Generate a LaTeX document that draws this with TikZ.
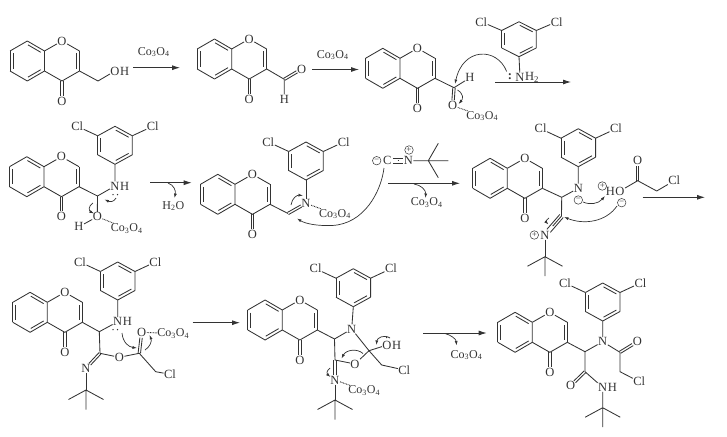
\documentclass[tikz,border=0pt]{standalone}
\usepackage{fontspec}
\setmainfont{Liberation Serif}
\usetikzlibrary{positioning, arrows.meta, calc}
\definecolor{ink}{gray}{.2}
\tikzstyle{bond} = [draw=ink, line width=.85pt]
\tikzstyle{metal} = [draw=ink, line width=.9pt, dash pattern=on .8pt off .8pt]
\tikzstyle{atom} = [inner sep=.4pt, text=ink, font=\fontsize{12.5}{12.5}\selectfont]
\tikzstyle{reagent} = [inner sep=0pt, text=ink, font=\fontsize{12}{12}\selectfont]
\tikzstyle{charge} = [draw=ink, circle, line width=.5pt, inner sep=0pt, minimum size=8.5pt, text=ink, font=\fontsize{9}{9}\selectfont]
\tikzstyle{rxnarrow} = [draw=ink, line width=.85pt, -{Latex[length=8pt,width=5pt]}]
\tikzstyle{curly} = [draw=ink, line width=.7pt, -{Latex[length=4.5pt,width=3pt]}]
\tikzstyle{lonepair} = [fill=ink, circle, inner sep=0pt, minimum size=1.5pt]
\newcommand{\ringdbl}[2]{%
  \draw[bond] (#1) -- (#2);
  \draw[bond, shorten >=2.5pt, shorten <=2.5pt] ($(#1)!3pt!90:(#2)$) -- ($(#2)!3pt!-90:(#1)$);}
% optional argument: how far the start stays clear of a label
\newcommand{\dblbond}[3][0pt]{%
  \draw[bond, shorten <=#1, shorten >=5.5pt] ($(#2)!1.2pt!90:(#3)$) -- ($(#3)!1.2pt!-90:(#2)$);
  \draw[bond, shorten <=#1, shorten >=5.5pt] ($(#2)!1.2pt!-90:(#3)$) -- ($(#3)!1.2pt!90:(#2)$);}
\newcommand{\tplbond}[3][0pt]{%
  \draw[bond, shorten <=#1, shorten >=5.5pt] ($(#2)!2.3pt!90:(#3)$) -- ($(#3)!2.3pt!-90:(#2)$);
  \draw[bond, shorten <=#1, shorten >=5.5pt] (#2) -- (#3);
  \draw[bond, shorten <=#1, shorten >=5.5pt] ($(#2)!2.3pt!-90:(#3)$) -- ($(#3)!2.3pt!90:(#2)$);}
\newcommand{\cooxide}{Co\textsubscript{3}O\textsubscript{4}}
\tikzset{
  chromone/.pic={
    \coordinate (-c3) at (0,0);
    \coordinate (-c2) at (0,-20);
    \coordinate (-c8a) at (-35,-20);
    \coordinate (-c4a) at (-35,0);
    \coordinate (-c4) at (-17.5,10);
    \coordinate (-c8) at (-52.2,-30);
    \coordinate (-c7) at (-69.5,-20);
    \coordinate (-c6) at (-69.5,0);
    \coordinate (-c5) at (-52.2,10);
    \node[atom] (-o1) at (-17.5,-30) {O};
    \node[atom] (-o4) at (-17.5,30) {O};
    \ringdbl{-c3}{-c2}
    \ringdbl{-c8a}{-c8}
    \ringdbl{-c7}{-c6}
    \ringdbl{-c5}{-c4a}
    \draw[bond] (-c8) -- (-c7) (-c6) -- (-c5) (-c4a) -- (-c8a);
    \draw[bond] (-c8a) -- (-o1) -- (-c2);
    \draw[bond] (-c3) -- (-c4) -- (-c4a);
    \dblbond{-c4}{-o4}
  },
  aryl/.pic={
    \coordinate (-c1) at (0,0);
    \coordinate (-c2) at (17.3,-9.5);
    \coordinate (-c3) at (17.3,-28.5);
    \coordinate (-c4) at (0,-38);
    \coordinate (-c5) at (-17.3,-28.5);
    \coordinate (-c6) at (-17.3,-9.5);
    \node[atom] (-cll) at (-37.7,-38) {Cl};
    \node[atom] (-clr) at (37.7,-38) {Cl};
    \ringdbl{-c1}{-c2}
    \ringdbl{-c3}{-c4}
    \ringdbl{-c5}{-c6}
    \draw[bond] (-c2) -- (-c3) (-c4) -- (-c5) (-c6) -- (-c1);
    \draw[bond] (-c3) -- (-clr) (-c5) -- (-cll);
  },
  tbutyl/.pic={
    \coordinate (-c) at (0,0);
    \draw[bond] (-c) -- (-17.5,9.5) (-c) -- (17.5,9.5) (-c) -- (0,19.5);
  }
}
\begin{document}
\begin{tikzpicture}[x=1pt, y=-1pt]
  \useasboundingbox (0,0) rectangle (727,436);

  % first row
  \pic (ma) at (79.5,71) {chromone};
  \coordinate (mach) at (98,81);
  \node[atom] (maoh) at (115,71) {O};
  \node[atom, right=-.6pt of maoh] (mah) {H};
  \draw[bond] (ma-c3) -- (mach) -- (maoh);
  \coordinate (arra) at (133,67.7);
  \coordinate (arrb) at (180,67.7);
  \draw[rxnarrow] (arra) -- (arrb);
  \node[reagent] (rga) at (153.7,52) {\cooxide};

  \pic (mb) at (266.7,69) {chromone};
  \coordinate (mbc) at (284.3,79.3);
  \node[atom] (mbo) at (301.7,69) {O};
  \node[atom] (mbh) at (284.3,99) {H};
  \draw[bond] (mb-c3) -- (mbc) -- (mbh);
  \dblbond{mbc}{mbo}
  \coordinate (arrc) at (312,69.5);
  \coordinate (arrd) at (359,69.5);
  \draw[rxnarrow] (arrc) -- (arrd);
  \node[reagent] (rgb) at (332.7,55) {\cooxide};

  \pic (mc) at (435,78.3) {chromone};
  \coordinate (mcc) at (454,87.7);
  \node[atom] (mch) at (470,77.7) {H};
  \node[atom] (mco) at (452.7,105.7) {O};
  \node[reagent] (mcco) at (482.3,116) {\cooxide};
  \draw[bond] (mc-c3) -- (mcc) -- (mch);
  \dblbond{mcc}{mco}
  \draw[metal] (mco) -- (mcco);
  \pic[yscale=.92] (ara) at (519,56.7) {aryl};
  \node[atom] (man) at (520,77.3) {N};
  \node[atom, right=-.6pt of man] (manh) {H\textsubscript{2}};
  \node[atom] (mancol) at (510,76.5) {\textbf{:}};
  \draw[bond] (ara-c1) -- (man);
  \coordinate (arre) at (495,82);
  \coordinate (arrf) at (571,82);
  \draw[rxnarrow] (arre) -- (arrf);
  \draw[curly] (506.7,71.5) .. controls (497,47) and (463,47) .. (455,84);
  \draw[curly] (457.5,90) .. controls (464,94) and (463,99) .. (458.5,104);

  % second row
  \pic (md) at (79,186.7) {chromone};
  \pic (ard) at (115,164.3) {aryl};
  \coordinate (mdc) at (97.5,196);
  \node[atom] (mdn) at (115,186) {N};
  \node[atom, right=-.6pt of mdn] (mdnh) {H};
  \node[atom] (mdo) at (97.3,216.7) {O};
  \node[atom] (mdh) at (79,226.7) {H};
  \node[reagent] (mdco) at (126.7,228.5) {\cooxide};
  \draw[bond] (md-c3) -- (mdc) -- (mdn) -- (ard-c1);
  \draw[bond] (mdc) -- (mdo) -- (mdh);
  \draw[metal] (mdo) -- (mdco);
  \node[lonepair] (mdpa) at (113,194.5) {};
  \node[lonepair] (mdpb) at (117.5,194.5) {};
  \draw[curly] (116,198) .. controls (114,202) and (110,202) .. (104.5,199.5);
  \draw[curly] (93,203) .. controls (88,206) and (89,211) .. (94,213.5);
  \coordinate (arrg) at (150.3,182.7);
  \coordinate (arrh) at (191.7,182.7);
  \draw[rxnarrow] (arrg) -- (arrh);
  \draw[curly] (168,183) .. controls (174,185) and (176,191) .. (174.5,198);
  \node[reagent] (rgc) at (173.3,206) {H\textsubscript{2}O};

  \pic (me) at (270,204.3) {chromone};
  \pic (are) at (306,180) {aryl};
  \coordinate (mec) at (288,213.5);
  \node[atom] (men) at (306,203.3) {N};
  \node[reagent] (meco) at (335,214) {\cooxide};
  \draw[bond] (me-c3) -- (mec);
  \dblbond{mec}{men}
  \draw[bond] (men) -- (are-c1);
  \draw[metal] (men) -- (meco);
  \draw[curly] (291,205) .. controls (292,198) and (297,195) .. (303,195.5);

  % isocyanide
  \node[charge] (isom) at (376.7,160.7) {\textminus};
  \node[atom] (isoc) at (387.3,160.7) {C};
  \node[atom] (ison) at (408.3,160.7) {N};
  \node[charge] (isop) at (409,150) {+};
  \coordinate (isob) at (428.3,160.7);
  \coordinate (isoup) at (438.3,143.3);
  \coordinate (isort) at (448.3,160.7);
  \coordinate (isodn) at (438.3,177.7);
  \tplbond[5.5pt]{isoc}{ison}
  \draw[bond] (ison) -- (isob) -- (isort) (isoup) -- (isob) -- (isodn);
  \draw[curly] (384,168) .. controls (381,192) and (364,224) .. (332,225.5) .. controls (318,226) and (306,224) .. (297,218.5);
  \coordinate (arri) at (388.3,183.3);
  \coordinate (arrj) at (460,183.3);
  \draw[rxnarrow] (arri) -- (arrj);
  \draw[curly] (414,184) .. controls (421,185) and (426,190) .. (425.5,198);
  \node[reagent] (rgd) at (426.7,202.5) {\cooxide};

  \pic (mf) at (542.3,188.3) {chromone};
  \pic (arf) at (578.3,166.7) {aryl};
  \coordinate (mfc) at (561.7,197.3);
  \coordinate (mfi) at (561.5,216);
  \node[atom] (mfn) at (578.3,188.3) {N};
  \node[charge] (mfnm) at (578.3,200) {\textminus};
  \node[atom] (mfnn) at (545,235) {N};
  \node[charge] (mfnp) at (534.3,235) {+};
  \pic (mfb) at (545,256.7) {tbutyl};
  \draw[bond] (mf-c3) -- (mfc) -- (mfn) -- (arf-c1);
  \draw[bond] (mfc) -- (mfi);
  \tplbond{mfi}{mfnn}
  \draw[bond] (mfnn) -- (mfb-c);
  \draw[curly] (549,218) .. controls (546,220) and (546,222) .. (548.5,224.5);

  % chloroacetic acid
  \node[charge] (hap) at (602.3,186) {+};
  \node[atom] (hao) at (620,191) {O};
  \node[atom, left=-.6pt of hao] (hah) {H};
  \coordinate (hac) at (637.7,180.7);
  \coordinate (hach) at (656.7,191);
  \node[atom] (haoo) at (637.7,160.7) {O};
  \node[atom] (hacl) at (674.3,180.7) {Cl};
  \node[charge] (ham) at (621.7,202.7) {\textminus};
  \draw[bond] (hao) -- (hac) -- (hach) -- (hacl);
  \dblbond{hac}{haoo}
  \draw[curly] (583,202) .. controls (590,205) and (598,204) .. (605,196);
  \draw[curly] (617,206) .. controls (606,222) and (584,225) .. (564,217);
  \coordinate (arrk) at (642.7,197.3);
  \coordinate (arrl) at (705,197.3);
  \draw[rxnarrow] (arrk) -- (arrl);

  % third row
  \pic (mg) at (82.3,322.3) {chromone};
  \pic (arg) at (117.7,300) {aryl};
  \coordinate (mgc) at (99.3,331.7);
  \coordinate (mgi) at (100,353.3);
  \node[atom] (mgn) at (117.7,321.7) {N};
  \node[atom, right=-.6pt of mgn] (mgnh) {H};
  \node[atom] (mgnn) at (86,368.3) {N};
  \pic (mgb) at (86,390) {tbutyl};
  \node[atom] (mgo) at (119.3,357.3) {O};
  \coordinate (mgq) at (139.3,353.3);
  \node[atom] (mgoo) at (141.7,332.3) {O};
  \node[reagent] (mgco) at (173.3,333.5) {\cooxide};
  \coordinate (mgch) at (155.7,371.7);
  \node[atom] (mgcl) at (170,374.3) {Cl};
  \draw[bond] (mg-c3) -- (mgc) -- (mgn) -- (arg-c1);
  \draw[bond] (mgc) -- (mgi) -- (mgo) -- (mgq) -- (mgch) -- (mgcl);
  \dblbond{mgi}{mgnn}
  \draw[bond] (mgnn) -- (mgb-c);
  \dblbond{mgq}{mgoo}
  \draw[metal] (mgoo) -- (mgco);
  \node[lonepair] (mgpa) at (113,329.5) {};
  \node[lonepair] (mgpb) at (117.5,329.5) {};
  \draw[curly] (122,333) .. controls (123,343) and (129,347) .. (137,348);
  \draw[curly] (145,350) .. controls (150,347) and (152,341) .. (149.5,335);
  \coordinate (arrm) at (192.7,322.7);
  \coordinate (arrn) at (240,322.7);
  \draw[rxnarrow] (arrm) -- (arrn);

  \pic (mh) at (317.3,330) {chromone};
  \pic (arh) at (353.3,306.7) {aryl};
  \coordinate (mhc) at (334.5,339);
  \coordinate (mhi) at (335,360);
  \node[atom] (mhn) at (351.7,329) {N};
  \node[atom] (mhnn) at (335,380) {N};
  \pic (mhb) at (335,400) {tbutyl};
  \node[reagent] (mhco) at (364.3,390.5) {\cooxide};
  \node[atom] (mho) at (355,364) {O};
  \coordinate (mhq) at (369,350.7);
  \node[atom] (mhoh) at (387,345) {O};
  \node[atom, right=-.6pt of mhoh] (mhh) {H};
  \coordinate (mhch) at (381.7,365);
  \node[atom] (mhcl) at (404.3,370) {Cl};
  \draw[bond] (mh-c3) -- (mhc) -- (mhn) -- (arh-c1);
  \draw[bond] (mhc) -- (mhi) -- (mho) -- (mhq) -- (mhn);
  \draw[bond] (mhq) -- (mhoh) (mhq) -- (mhch) -- (mhcl);
  \dblbond{mhi}{mhnn}
  \draw[bond] (mhnn) -- (mhb-c);
  \draw[metal] (mhnn) -- (mhco);
  \node[lonepair] (mhpa) at (386.7,337.5) {};
  \draw[curly] (390,338) .. controls (384,334) and (377,338) .. (376.5,345);
  \draw[curly] (363,353.5) .. controls (357,348) and (346,350) .. (341.5,358.5);
  \draw[curly] (330,368) .. controls (326,371) and (327,374) .. (330.5,377);
  \coordinate (arro) at (423.3,333);
  \coordinate (arrp) at (486.7,333);
  \draw[rxnarrow] (arro) -- (arrp);
  \draw[curly] (445,333.5) .. controls (451,335) and (456,339) .. (456.5,345.5);
  \node[reagent] (rge) at (466.5,355) {\cooxide};

  \pic (mi) at (567.3,342.3) {chromone};
  \pic (ari) at (602.7,321) {aryl};
  \coordinate (mic) at (585,351.7);
  \coordinate (mia) at (620,352.3);
  \coordinate (mich) at (620,371.7);
  \coordinate (mid) at (585,371.7);
  \node[atom] (min) at (602.7,341.7) {N};
  \node[atom] (mioa) at (637.3,341.7) {O};
  \node[atom] (micl) at (639.3,381.7) {Cl};
  \node[atom] (miob) at (570.7,385.7) {O};
  \node[atom] (minn) at (602.7,387.3) {N};
  \node[atom, right=-.6pt of minn] (minh) {H};
  \pic (mib) at (602.7,407.7) {tbutyl};
  \draw[bond] (mi-c3) -- (mic) -- (min) -- (ari-c1);
  \draw[bond] (min) -- (mia) -- (mich) -- (micl);
  \dblbond{mia}{mioa}
  \draw[bond] (mic) -- (mid) -- (minn) -- (mib-c);
  \dblbond{mid}{miob}
\end{tikzpicture}
\end{document}
